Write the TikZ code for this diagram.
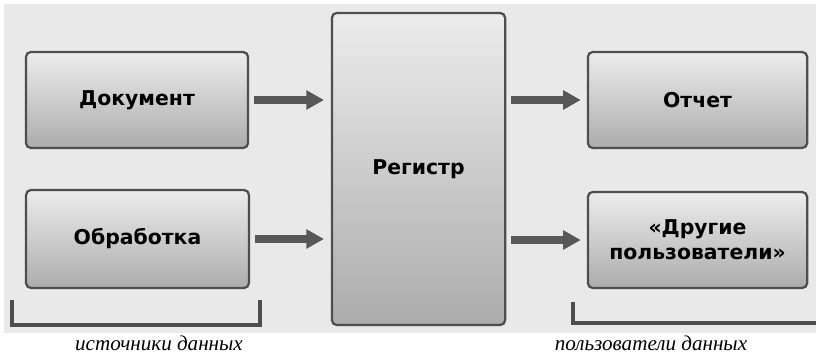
\documentclass[tikz,border=0pt]{standalone}
\usepackage{fontspec}
\setmainfont{Liberation Serif}
\newfontfamily\boxfont{DejaVu Sans}
\usepackage{tikz}
\usetikzlibrary{arrows.meta,positioning,calc}
\definecolor{paper}{RGB}{233,233,233}
\definecolor{boxtop}{RGB}{236,236,236}
\definecolor{boxbottom}{RGB}{172,172,172}
\definecolor{boxline}{RGB}{78,78,78}
\definecolor{arrowgray}{RGB}{88,88,88}

\tikzset{
  block/.style={draw=boxline,line width=1.6pt,rounded corners=3.5pt,
    top color=boxtop,bottom color=boxbottom,align=center,
    font=\boxfont\bfseries\fontsize{14.5}{17.5}\selectfont},
  flow/.style={draw=arrowgray,line width=5pt,-{Triangle[length=4.4mm,width=4.6mm]}},
  brace/.style={draw=boxline,line width=2.6pt},
  caption/.style={inner sep=1pt,font=\itshape\fontsize{15}{18}\selectfont}
}

\begin{document}
\begin{tikzpicture}[x=0.025cm,y=-0.025cm]
\useasboundingbox (0,0) rectangle (816,356);
\fill[paper] (4,4) rectangle (816,333);
% sources, register, users
\node[block,minimum width=5.55cm,minimum height=2.4cm] (doc) at (137,100) {Документ};
\node[block,minimum width=5.57cm,minimum height=2.45cm] (proc) at (137.5,239) {Обработка};
\node[block,minimum width=4.33cm,minimum height=7.8cm] (reg) at (418.5,169) {Регистр};
\node[block,minimum width=5.48cm,minimum height=2.4cm] (rep) at (697.5,100) {Отчет};
\node[block,minimum width=5.48cm,minimum height=2.4cm] (oth) at (697.5,240) {«Другие\\пользователи»};
\foreach \a in {doc,proc}{
  \draw[flow,shorten <=0.13cm,shorten >=0.17cm] (\a.east) -- (\a.east -| reg.west);
}
\foreach \b in {rep,oth}{
  \draw[flow,shorten <=0.13cm,shorten >=0.15cm] (\b.west -| reg.east) -- (\b.west);
}
% brackets and captions
\coordinate (la) at (12,300);
\coordinate (lb) at (260,300);
\coordinate (ra) at (573,302);
\coordinate (rb) at (816,323);
\draw[brace] (la) -- (la |- 0,325) -- (lb |- 0,325) -- (lb);
\draw[brace] (ra) -- (ra |- rb) -- (rb);
\node[caption] (src) at (159,343) {источники данных};
\node[caption] (usr) at (651,343) {пользователи данных};
\end{tikzpicture}
\end{document}
